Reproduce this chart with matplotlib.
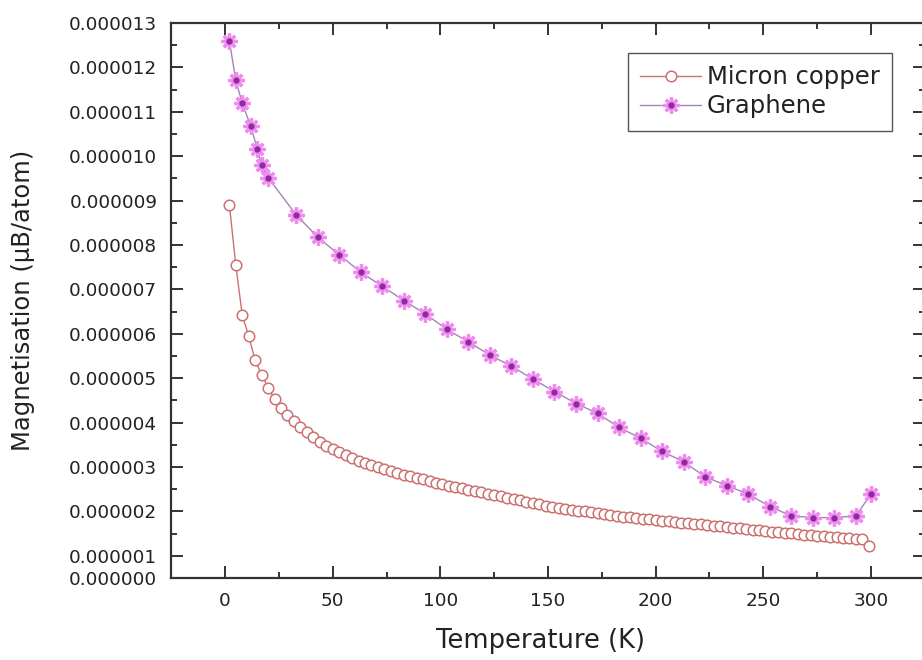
import numpy as np
import matplotlib
matplotlib.use("Agg")
import matplotlib.pyplot as plt
from matplotlib.lines import Line2D
from matplotlib.ticker import FixedLocator, MultipleLocator

# magnetisation values in units of 1e-6 uB/atom
SCALE = 1e-6

copper_T = [
    2, 5, 8, 11, 14, 17, 20, 23, 26, 29,
    32, 35, 38, 41, 44, 47, 50, 53, 56, 59,
    62, 65, 68, 71, 74, 77, 80, 83, 86, 89,
    92, 95, 98, 101, 104, 107, 110, 113, 116, 119,
    122, 125, 128, 131, 134, 137, 140, 143, 146, 149,
    152, 155, 158, 161, 164, 167, 170, 173, 176, 179,
    182, 185, 188, 191, 194, 197, 200, 203, 206, 209,
    212, 215, 218, 221, 224, 227, 230, 233, 236, 239,
    242, 245, 248, 251, 254, 257, 260, 263, 266, 269,
    272, 275, 278, 281, 284, 287, 290, 293, 296, 299,
]
copper_M = [
    8.91, 7.55, 6.42, 5.95, 5.40, 5.08, 4.79, 4.53, 4.33, 4.17,
    4.03, 3.90, 3.78, 3.67, 3.57, 3.48, 3.40, 3.33, 3.26, 3.20,
    3.14, 3.09, 3.04, 2.99, 2.95, 2.91, 2.87, 2.83, 2.79, 2.75,
    2.72, 2.68, 2.65, 2.61, 2.58, 2.55, 2.52, 2.49, 2.46, 2.43,
    2.40, 2.37, 2.34, 2.31, 2.28, 2.25, 2.22, 2.19, 2.16, 2.13,
    2.10, 2.08, 2.06, 2.04, 2.02, 2.00, 1.98, 1.96, 1.94, 1.92,
    1.90, 1.885, 1.87, 1.855, 1.84, 1.825, 1.81, 1.795, 1.78, 1.765,
    1.75, 1.735, 1.72, 1.705, 1.69, 1.675, 1.66, 1.645, 1.63, 1.615,
    1.60, 1.585, 1.57, 1.556, 1.543, 1.530, 1.517, 1.504, 1.491, 1.478,
    1.465, 1.452, 1.440, 1.428, 1.417, 1.406, 1.395, 1.384, 1.373, 1.22,
]

graphene_T = [2, 5, 8, 12, 15, 17, 20, 33, 43, 53, 63, 73, 83, 93, 103, 113,
              123, 133, 143, 153, 163, 173, 183, 193, 203, 213, 223, 233,
              243, 253, 263, 273, 283, 293, 300]
graphene_M = [12.60, 11.71, 11.19, 10.67, 10.16, 9.80, 9.52, 8.68, 8.18,
              7.78, 7.39, 7.07, 6.75, 6.45, 6.10, 5.82, 5.52, 5.27, 4.98,
              4.70, 4.43, 4.21, 3.89, 3.65, 3.35, 3.12, 2.78, 2.58, 2.39,
              2.11, 1.90, 1.86, 1.86, 1.90, 2.39]

y_ticks = [0.5, 1, 2, 3, 4, 5, 6, 7, 8, 9, 10, 11, 12, 13]
y_tick_labels = ["0.000000", "0.000001", "0.000002", "0.000003", "0.000004",
                 "0.000005", "0.000006", "0.000007", "0.000008", "0.000009",
                 "0.000010", "0.000011", "0.000012", "0.000013"]

COPPER = "#cc7070"
GRAPH_LINE = "#a585b5"
GRAPH_STAR = "#f08cf0"
GRAPH_DOT = "#8a2c9a"
TEXT = "#222222"

plt.rcParams["font.family"] = ["DejaVu Sans"]

fig = plt.figure(figsize=(9.22, 6.60), dpi=100)
W, H = 922, 660
left, right, top, bottom = 171.2, 924.8, 23, 578
ax = fig.add_axes([left / W, 1 - bottom / H, (right - left) / W, (bottom - top) / H])

cu_M = np.array(copper_M) * SCALE
gr_M = np.array(graphene_M) * SCALE

ax.plot(copper_T, cu_M, color=COPPER, lw=1.0, marker="o", ms=7.6,
        mfc="white", mec=COPPER, mew=1.1, zorder=3)
ax.plot(graphene_T, gr_M, color=GRAPH_LINE, lw=1.0, marker=(8, 2, 0),
        ms=11.5, mec=GRAPH_STAR, mew=2.4, zorder=3)
ax.plot(graphene_T, gr_M, ls="none", marker="o", ms=3.5, mfc=GRAPH_DOT,
        mec=GRAPH_DOT, zorder=4)

ax.set_xlim(-25, 325)
ax.set_ylim(0.5 * SCALE, 13 * SCALE)

ax.xaxis.set_major_locator(MultipleLocator(50))
ax.xaxis.set_minor_locator(MultipleLocator(25))
ax.yaxis.set_major_locator(FixedLocator([v * SCALE for v in y_ticks]))
ax.yaxis.set_minor_locator(FixedLocator([(v + 0.5) * SCALE for v in range(1, 13)]))
ax.set_yticklabels(y_tick_labels)

ax.tick_params(which="both", direction="in", top=True, right=True,
               width=1.4, colors="#333333", labelcolor=TEXT)
ax.tick_params(which="major", length=8.5, pad=10, labelsize=13.3)
ax.tick_params(which="minor", length=4.5)
for s in ax.spines.values():
    s.set_linewidth(1.6)
    s.set_color("#333333")

ax.set_xlabel("Temperature (K)", fontsize=18.5, color=TEXT)
ax.set_ylabel("Magnetisation (\u03bcB/atom)", fontsize=17.5, color=TEXT)
ax.xaxis.set_label_coords((540 - left) / (right - left), (bottom - 641) / (bottom - top))
ax.yaxis.set_label_coords((23 - left) / (right - left), (bottom - 300) / (bottom - top))
ax.xaxis.label.set_va("center")
ax.yaxis.label.set_va("center")

h_cu = Line2D([], [], color=COPPER, lw=1.0, marker="o", ms=7.6, mfc="white",
              mec=COPPER, mew=1.1)
h_gr = (Line2D([], [], color=GRAPH_LINE, lw=1.0, marker=(8, 2, 0), ms=11.5,
               mec=GRAPH_STAR, mew=2.4),
        Line2D([], [], ls="none", marker="o", ms=3.5, mfc=GRAPH_DOT, mec=GRAPH_DOT))
leg = ax.legend([h_cu, h_gr], ["Micron copper", "Graphene"], loc="upper right",
                bbox_to_anchor=((892 - left) / (right - left), (bottom - 53) / (bottom - top)),
                borderaxespad=0, fontsize=17.5, handlelength=2.5, handletextpad=0.25,
                borderpad=0.5, labelspacing=0.22, fancybox=False, framealpha=1)
leg.get_frame().set_edgecolor("#555555")
leg.get_frame().set_linewidth(1.0)
for t in leg.get_texts():
    t.set_color(TEXT)

fig.savefig("out.png", dpi=100, facecolor="white")
